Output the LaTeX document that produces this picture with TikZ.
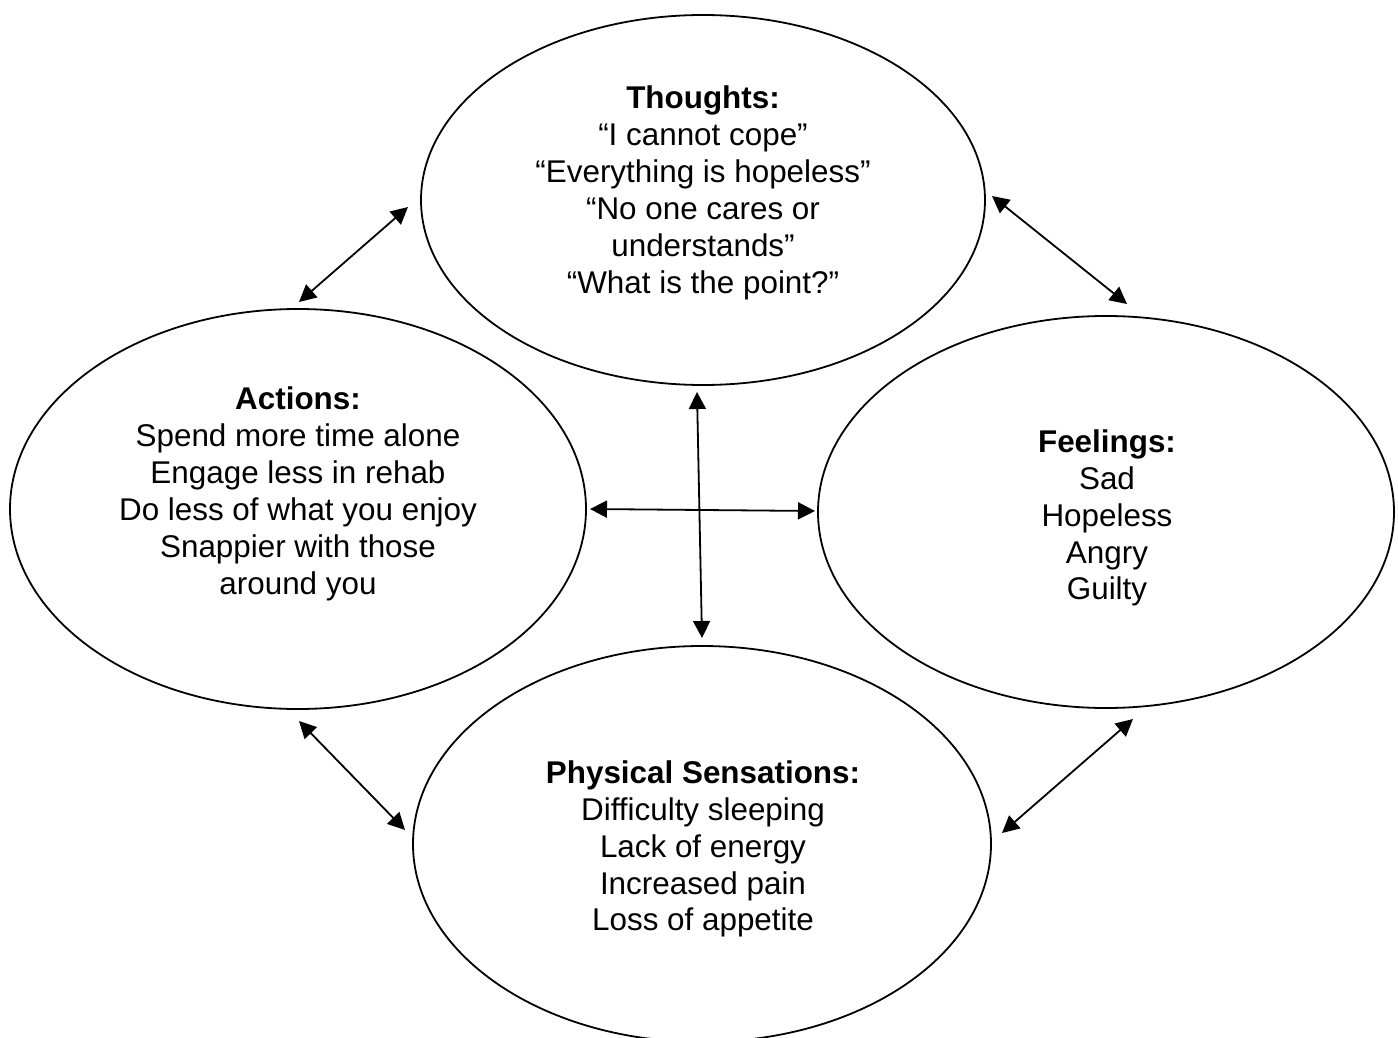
\documentclass[tikz,border=0pt]{standalone}
\usepackage{fontspec}
\setmainfont{Liberation Sans}
\usetikzlibrary{shapes.geometric,arrows.meta}
\tikzset{
  bubble/.style={draw, ellipse, line width=1.8pt, inner sep=0pt},
  words/.style={align=center, inner sep=0pt, font=\fontsize{31.4}{36.9}\selectfont},
  link/.style={line width=1.8pt, {Triangle[length=17pt,width=17pt]}-{Triangle[length=17pt,width=17pt]}},
}
\begin{document}
\begin{tikzpicture}[x=1pt,y=-1pt]
\useasboundingbox (0,0) rectangle (1398,1038);
\clip (0,0) rectangle (1398,1038);
% ellipses
\node[bubble, minimum width=564pt, minimum height=370pt] (th) at (703,200) {};
\node[bubble, minimum width=576pt, minimum height=400pt] (ac) at (298,509) {};
\node[bubble, minimum width=576pt, minimum height=392pt] (fe) at (1106,512) {};
\node[bubble, minimum width=578pt, minimum height=396pt] (ph) at (702,844) {};
% texts
\node[words] (thT) at (703,193) {\textbf{Thoughts:}\\“I cannot cope”\\“Everything is hopeless”\\“No one cares or\\understands”\\“What is the point?”};
\node[words] (acT) at (298,494) {\textbf{Actions:}\\Spend more time alone\\Engage less in rehab\\Do less of what you enjoy\\Snappier with those\\around you};
\node[words] (feT) at (1107,518) {\textbf{Feelings:}\\Sad\\Hopeless\\Angry\\Guilty};
\node[words] (phT) at (703,849) {\textbf{Physical Sensations:}\\Difficulty sleeping\\Lack of energy\\Increased pain\\Loss of appetite};
% arrow ends
\coordinate (vt) at (697,392);
\coordinate (vb) at (702,638);
\coordinate (hl) at (590,509);
\coordinate (hr) at (815,511);
\coordinate (ul1) at (408,207);
\coordinate (ul2) at (299,302);
\coordinate (ur1) at (992,196);
\coordinate (ur2) at (1127,304);
\coordinate (ll1) at (299,721);
\coordinate (ll2) at (405,830);
\coordinate (lr1) at (1133,719);
\coordinate (lr2) at (1002,833);
% connectors
\draw[link] (vt) -- (vb);
\draw[link] (hl) -- (hr);
\draw[link] (ul1) -- (ul2);
\draw[link] (ur1) -- (ur2);
\draw[link] (ll1) -- (ll2);
\draw[link] (lr1) -- (lr2);
\end{tikzpicture}
\end{document}
